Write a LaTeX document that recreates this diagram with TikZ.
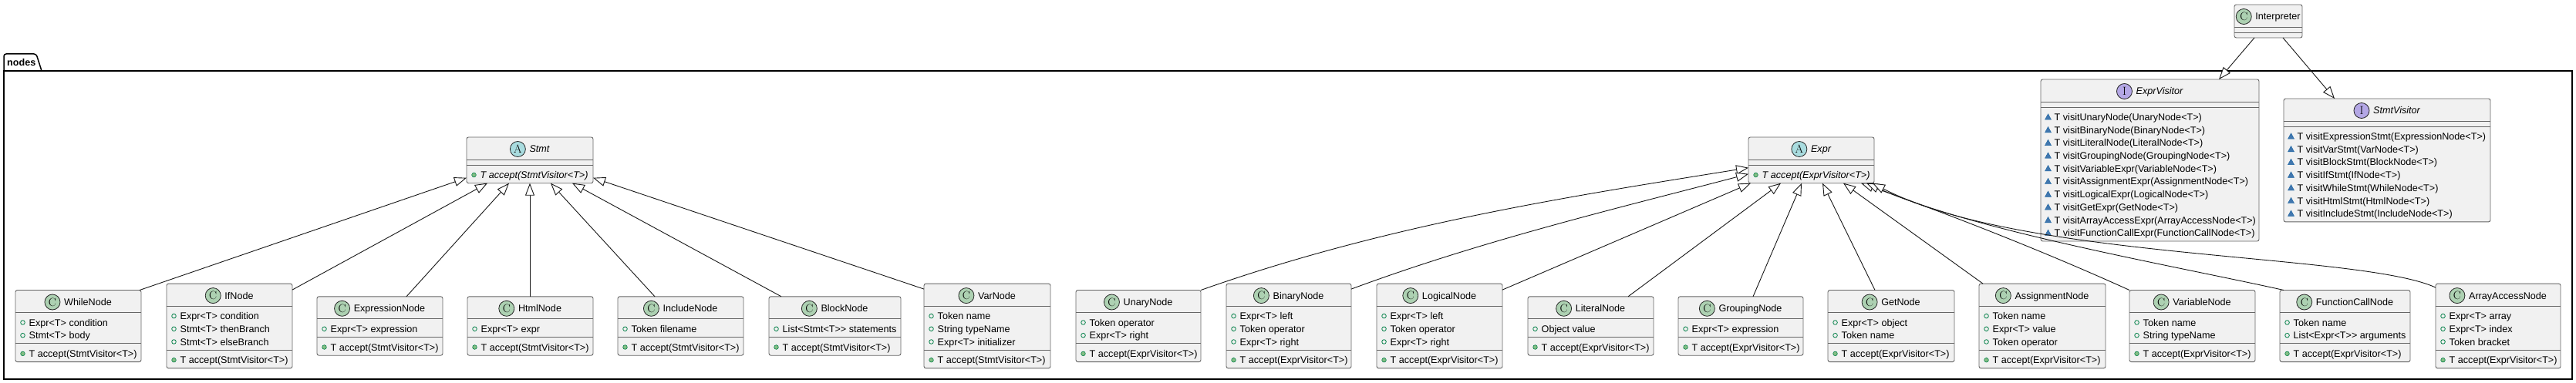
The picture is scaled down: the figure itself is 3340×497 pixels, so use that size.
\documentclass[tikz,border=0pt]{standalone}
\usepackage{fontspec}
\newfontfamily\lib{Liberation Sans}
\usetikzlibrary{arrows.meta,calc}
\definecolor{boxfill}{HTML}{F1F1F1}
\definecolor{cgreen}{HTML}{ADD1B2}
\definecolor{acyan}{HTML}{A9DCDF}
\definecolor{ipurple}{HTML}{B4A7E5}
\definecolor{visgreen}{HTML}{038048}
\definecolor{visfill}{HTML}{84BE84}
\definecolor{pkgblue}{HTML}{4177AF}
\definecolor{pkgedge}{HTML}{1963A0}
\definecolor{edgecol}{HTML}{181818}
\newcommand\tf{\lib\fontsize{12.6}{15}\selectfont}
\tikzset{
  classbox/.style={draw=black!60, line width=0.9pt, fill=boxfill, rounded corners=2.5pt, inner sep=0, outer sep=0, rectangle},
  sepline/.style={draw=black!60, line width=0.9pt},
  badge/.style={circle, draw=black!85, line width=0.8pt, minimum size=20pt, inner sep=0, font=\rmfamily\fontsize{15}{15}\selectfont},
  memtext/.style={anchor=base west, inner sep=0, font=\tf},
  ext/.style={draw=edgecol, line width=0.9pt, -{Triangle[fill=white, length=16pt, width=12pt]}},
}
\newcommand\umlclass[6]{%
  \pgfmathsetmacro\ww{#4-#2}%
  \pgfmathsetmacro\hh{29+16.7*#5+7+16.7*#6+7}%
  \pgfmathsetmacro\hb{29+16.7*#5+7}%
  \node[classbox, minimum width=\ww pt, minimum height=\hh pt, anchor=north west] (#1) at (#2,#3) {};
  \draw[sepline] ([yshift=-29pt]#1.north west) -- ([yshift=-29pt]#1.north east);
  \draw[sepline] ([yshift=-\hb pt]#1.north west) -- ([yshift=-\hb pt]#1.north east);
}
\newcommand\umlhead[4]{%
  \node[inner sep=0, anchor=base, font=\tf] (#1-t) at ([yshift=-20pt]#1.north) {\hspace*{25pt}#4};
  \node[badge, fill=#3] (#1-b) at ([xshift=10pt, yshift=4.5pt]#1-t.base west) {#2};
}
\newcommand\umlattrs[2]{%
  \foreach \mt [count=\idx from 0] in {#2} {
    \pgfmathsetmacro\yy{29+13+16.7*\idx}
    \draw[visgreen, line width=0.8pt] ([shift={(9.5,\yy)}]#1.north west) circle (2.8pt);
    \node[memtext] at ([shift={(17.5,\yy+4.5)}]#1.north west) {\mt};
  }
}
\newcommand\umlmeths[4]{%
  \foreach \mt [count=\idx from 0] in {#4} {
    \pgfmathsetmacro\yy{29+16.7*#2+7+13+16.7*\idx}
    \ifnum#3=0
      \filldraw[fill=visfill, draw=visgreen, line width=0.6pt] ([shift={(9.5,\yy)}]#1.north west) circle (2.8pt);
    \else
      \filldraw[fill=pkgblue, draw=pkgedge, line width=0.4pt] ([shift={(9.5,\yy)}]#1.north west) ++(-4,3.2) -- ++(8,0) -- ++(-4,-7.4) -- cycle;
    \fi
    \node[memtext] at ([shift={(17.5,\yy+4.5)}]#1.north west) {\mt};
  }
}
\begin{document}
\begin{tikzpicture}[x=1pt, y=-1pt]
\useasboundingbox (0,0) rectangle (3340,497);
% package
\draw[line width=1.5pt, black] (5,92) rectangle (3335,492);
\draw[line width=1.5pt, black, rounded corners=3pt] (5,92) -- (5,70) -- (47,70) [sharp corners] -- (54,92);
\node[anchor=base west, inner sep=0, font=\lib\bfseries\fontsize{12.6}{15}\selectfont] (pkg) at (9,86) {nodes};

% Interpreter and visitors
\umlclass{interp}{2897}{6}{2985}{0}{0}
\umlhead{interp}{C}{cgreen}{Interpreter}

\umlclass{exprv}{2646}{103}{2929}{0}{10}
\umlhead{exprv}{I}{ipurple}{\itshape ExprVisitor}
\umlmeths{exprv}{0}{1}{T visitUnaryNode(UnaryNode<T>),T visitBinaryNode(BinaryNode<T>),T visitLiteralNode(LiteralNode<T>),T visitGroupingNode(GroupingNode<T>),T visitVariableExpr(VariableNode<T>),T visitAssignmentExpr(AssignmentNode<T>),T visitLogicalExpr(LogicalNode<T>),T visitGetExpr(GetNode<T>),T visitArrayAccessExpr(ArrayAccessNode<T>),T visitFunctionCallExpr(FunctionCallNode<T>)}

\umlclass{stmtv}{2961}{128}{3229}{0}{7}
\umlhead{stmtv}{I}{ipurple}{\itshape StmtVisitor}
\umlmeths{stmtv}{0}{1}{T visitExpressionStmt(ExpressionNode<T>),T visitVarStmt(VarNode<T>),T visitBlockStmt(BlockNode<T>),T visitIfStmt(IfNode<T>),T visitWhileStmt(WhileNode<T>),T visitHtmlStmt(HtmlNode<T>),T visitIncludeStmt(IncludeNode<T>)}

% abstract bases
\umlclass{stmt}{605}{178}{769}{0}{1}
\umlhead{stmt}{A}{acyan}{\itshape Stmt}
\umlmeths{stmt}{0}{0}{\itshape T accept(StmtVisitor<T>)}

\umlclass{expr}{2267}{178}{2430}{0}{1}
\umlhead{expr}{A}{acyan}{\itshape Expr}
\umlmeths{expr}{0}{0}{\itshape T accept(ExprVisitor<T>)}

% Stmt subclasses
\umlclass{whilen}{20}{376.5}{183}{2}{1}
\umlhead{whilen}{C}{cgreen}{WhileNode}
\umlattrs{whilen}{Expr<T> condition,Stmt<T> body}
\umlmeths{whilen}{2}{0}{T accept(StmtVisitor<T>)}

\umlclass{ifn}{216}{368.1}{379}{3}{1}
\umlhead{ifn}{C}{cgreen}{IfNode}
\umlattrs{ifn}{Expr<T> condition,Stmt<T> thenBranch,Stmt<T> elseBranch}
\umlmeths{ifn}{3}{0}{T accept(StmtVisitor<T>)}

\umlclass{exprn}{411}{384.8}{574}{1}{1}
\umlhead{exprn}{C}{cgreen}{ExpressionNode}
\umlattrs{exprn}{Expr<T> expression}
\umlmeths{exprn}{1}{0}{T accept(StmtVisitor<T>)}

\umlclass{html}{606}{384.8}{769}{1}{1}
\umlhead{html}{C}{cgreen}{HtmlNode}
\umlattrs{html}{Expr<T> expr}
\umlmeths{html}{1}{0}{T accept(StmtVisitor<T>)}

\umlclass{incl}{801}{384.8}{964}{1}{1}
\umlhead{incl}{C}{cgreen}{IncludeNode}
\umlattrs{incl}{Token filename}
\umlmeths{incl}{1}{0}{T accept(StmtVisitor<T>)}

\umlclass{block}{997}{384.8}{1168}{1}{1}
\umlhead{block}{C}{cgreen}{BlockNode}
\umlattrs{block}{List<Stmt<T>> statements}
\umlmeths{block}{1}{0}{T accept(StmtVisitor<T>)}

\umlclass{var}{1198}{368.1}{1362}{3}{1}
\umlhead{var}{C}{cgreen}{VarNode}
\umlattrs{var}{Token name,String typeName,Expr<T> initializer}
\umlmeths{var}{3}{0}{T accept(StmtVisitor<T>)}

% Expr subclasses
\umlclass{unary}{1395}{376.5}{1557}{2}{1}
\umlhead{unary}{C}{cgreen}{UnaryNode}
\umlattrs{unary}{Token operator,Expr<T> right}
\umlmeths{unary}{2}{0}{T accept(ExprVisitor<T>)}

\umlclass{binary}{1590}{368.1}{1752}{3}{1}
\umlhead{binary}{C}{cgreen}{BinaryNode}
\umlattrs{binary}{Expr<T> left,Token operator,Expr<T> right}
\umlmeths{binary}{3}{0}{T accept(ExprVisitor<T>)}

\umlclass{logical}{1785}{368.1}{1948}{3}{1}
\umlhead{logical}{C}{cgreen}{LogicalNode}
\umlattrs{logical}{Expr<T> left,Token operator,Expr<T> right}
\umlmeths{logical}{3}{0}{T accept(ExprVisitor<T>)}

\umlclass{literal}{1981}{384.8}{2144}{1}{1}
\umlhead{literal}{C}{cgreen}{LiteralNode}
\umlattrs{literal}{Object value}
\umlmeths{literal}{1}{0}{T accept(ExprVisitor<T>)}

\umlclass{grouping}{2176}{384.8}{2338}{1}{1}
\umlhead{grouping}{C}{cgreen}{GroupingNode}
\umlattrs{grouping}{Expr<T> expression}
\umlmeths{grouping}{1}{0}{T accept(ExprVisitor<T>)}

\umlclass{getn}{2370}{376.5}{2534}{2}{1}
\umlhead{getn}{C}{cgreen}{GetNode}
\umlattrs{getn}{Expr<T> object,Token name}
\umlmeths{getn}{2}{0}{T accept(ExprVisitor<T>)}

\umlclass{assign}{2566}{368.1}{2730}{3}{1}
\umlhead{assign}{C}{cgreen}{AssignmentNode}
\umlattrs{assign}{Token name,Expr<T> value,Token operator}
\umlmeths{assign}{3}{0}{T accept(ExprVisitor<T>)}

\umlclass{variable}{2761}{376.5}{2924}{2}{1}
\umlhead{variable}{C}{cgreen}{VariableNode}
\umlattrs{variable}{Token name,String typeName}
\umlmeths{variable}{2}{0}{T accept(ExprVisitor<T>)}

\umlclass{funcall}{2956}{376.5}{3125}{2}{1}
\umlhead{funcall}{C}{cgreen}{FunctionCallNode}
\umlattrs{funcall}{Token name,List<Expr<T>> arguments}
\umlmeths{funcall}{2}{0}{T accept(ExprVisitor<T>)}

\umlclass{arrayacc}{3158}{368.1}{3320}{3}{1}
\umlhead{arrayacc}{C}{cgreen}{ArrayAccessNode}
\umlattrs{arrayacc}{Expr<T> array,Expr<T> index,Token bracket}
\umlmeths{arrayacc}{3}{0}{T accept(ExprVisitor<T>)}

% inheritance: Interpreter
\draw[ext] ([xshift=26pt]interp.south west) -- ([xshift=231pt]exprv.north west);
\draw[ext] ([xshift=63pt]interp.south west) -- ([xshift=66pt]stmtv.north west);

% inheritance: Stmt
\draw[ext] ([xshift=-2pt]whilen.north east) -- ([yshift=7pt]stmt.south west);
\draw[ext] ([yshift=-8pt]ifn.north east) -- ([xshift=27pt]stmt.south west);
\draw[ext] ([xshift=116pt]exprn.north west) -- ([xshift=55pt]stmt.south west);
\draw[ext] ([xshift=81pt]html.north west) -- ([xshift=82pt]stmt.south west);
\draw[ext] ([xshift=48pt]incl.north west) -- ([xshift=109pt]stmt.south west);
\draw[ext] ([xshift=16pt]block.north west) -- ([xshift=137pt]stmt.south west);
\draw[ext] ([yshift=-7pt]var.north west) -- ([yshift=7pt]stmt.south east);

% inheritance: Expr
\draw[ext] (unary.north east) .. controls (1796,292) and (2028,256) .. ([yshift=20pt]expr.south west);
\draw[ext] ([yshift=-7pt]binary.north east) .. controls (1922,312) and (2098,270) .. ([yshift=12pt]expr.south west);
\draw[ext] ([yshift=-8pt]logical.north east) -- ([xshift=3pt]expr.south west);
\draw[ext] ([xshift=130pt]literal.north west) -- ([xshift=42pt]expr.south west);
\draw[ext] ([xshift=97pt]grouping.north west) -- ([xshift=69pt]expr.south west);
\draw[ext] ([xshift=61pt]getn.north west) -- ([xshift=96pt]expr.south west);
\draw[ext] ([xshift=5pt]assign.north west) -- ([xshift=123pt]expr.south west);
\draw[ext] (variable.north west) .. controls (2641,322) and (2513,273) .. ([xshift=146pt]expr.south west);
\draw[ext] ([xshift=5pt]funcall.north west) .. controls (2820,345) and (2560,300) .. ([xshift=153pt]expr.south west);
\draw[ext] ([yshift=-5pt]arrayacc.north west) .. controls (3060,328) and (2620,338) .. ([xshift=161pt]expr.south west);
\end{tikzpicture}
\end{document}
